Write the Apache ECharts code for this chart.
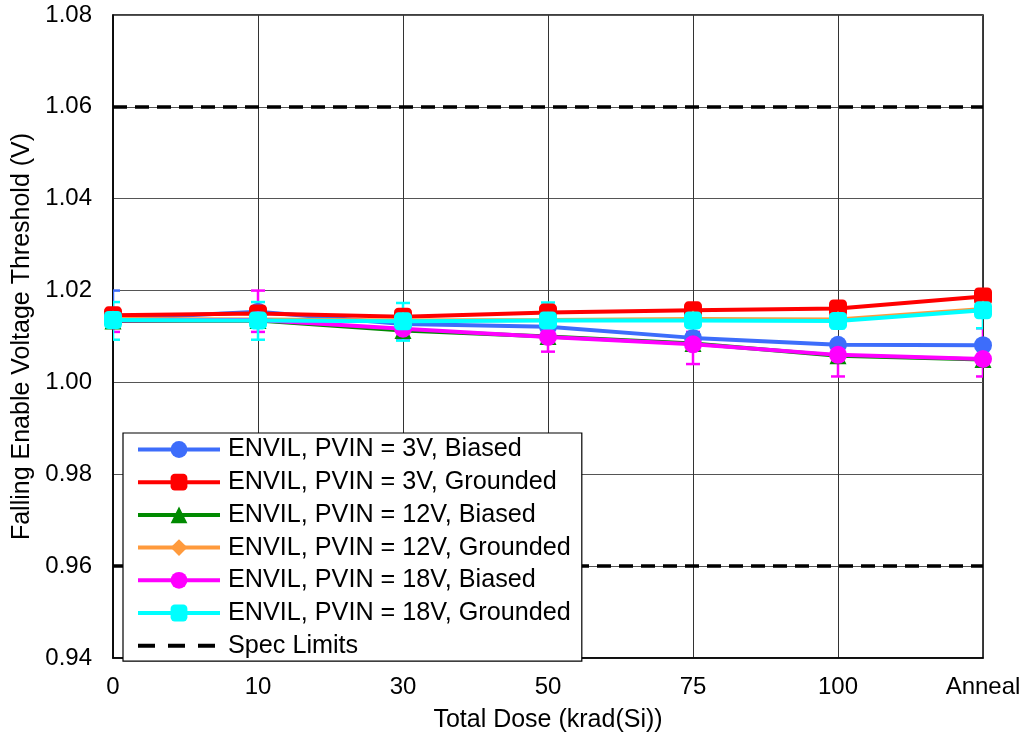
<!DOCTYPE html>
<html>
<head>
<meta charset="utf-8">
<script src="https://cdn.jsdelivr.net/npm/echarts@6/dist/echarts.min.js"></script>
<style>html,body{margin:0;padding:0;background:#fff}#c{width:1026px;height:742px}</style>
</head>
<body>
<div id="c"></div>
<script>
const categories = ['0', '10', '30', '50', '75', '100', 'Anneal'];
const yTicks = [0.94, 0.96, 0.98, 1.00, 1.02, 1.04, 1.06, 1.08];
const specLimits = [1.06, 0.96];

const blue3B    = [1.0138, 1.0154, 1.0127, 1.0121, 1.0097, 1.0082, 1.0081];
const red3G     = [1.0146, 1.0150, 1.0143, 1.0152, 1.0157, 1.0161, 1.0187];
const green12B  = [1.0134, 1.0135, 1.0113, 1.0100, 1.0085, 1.0058, 1.0050];
const orange12G = [1.0138, 1.0137, 1.0135, 1.0136, 1.0138, 1.0137, 1.0160];
const mag18B    = [1.0135, 1.0136, 1.0117, 1.0099, 1.0083, 1.0060, 1.0051];
const cyan18G   = [1.0136, 1.0135, 1.0133, 1.0135, 1.0135, 1.0134, 1.0157];

// error bar low / high limits (null = none drawn)
const blue3BLo  = [1.0125, null, null, null, null, null, null];
const blue3BHi  = [1.0200, null, null, null, null, null, null];
const mag18BLo  = [1.0110, 1.0110, 1.0095, 1.0067, 1.0040, 1.0013, 1.0013];
const mag18BHi  = [1.0160, 1.0200, 1.0135, 1.0120, 1.0110, 1.0085, 1.0118];
const cyan18GLo = [1.0093, 1.0093, 1.0091, 1.0096, 1.0120, 1.0118, 1.0118];
const cyan18GHi = [1.0175, 1.0175, 1.0173, 1.0174, 1.0150, 1.0150, 1.0196];

const FONT = 'Liberation Sans, Arial, sans-serif';
const FS = 24;
const FS_L = 25.2;
const FS_T = 25;

function lineSeries(name, data, color, symbol, size) {
  return {
    name: name, type: 'line', data: data,
    symbol: symbol, symbolSize: size, showSymbol: true,
    lineStyle: { color: color, width: 4 },
    itemStyle: { color: color, borderWidth: 0 },
    emphasis: { disabled: true },
    z: 3
  };
}
function errSeries(name, lo, hi, color) {
  const d = [];
  for (let i = 0; i < lo.length; i++) {
    if (lo[i] != null && hi[i] != null) d.push([i, lo[i], hi[i]]);
  }
  return {
    name: name, type: 'custom', data: d, z: 3, silent: true,
    clip: true,
    renderItem: function (params, api) {
      const x = api.value(0);
      const pLo = api.coord([x, api.value(1)]);
      const pHi = api.coord([x, api.value(2)]);
      const w = 7;
      const st = { stroke: color, lineWidth: 2.5 };
      return {
        type: 'group',
        children: [
          { type: 'line', shape: { x1: pLo[0], y1: pLo[1], x2: pHi[0], y2: pHi[1] }, style: st },
          { type: 'line', shape: { x1: pLo[0] - w, y1: pLo[1], x2: pLo[0] + w, y2: pLo[1] }, style: st },
          { type: 'line', shape: { x1: pHi[0] - w, y1: pHi[1], x2: pHi[0] + w, y2: pHi[1] }, style: st }
        ]
      };
    }
  };
}

const C_BLUE = '#3d6dfb', C_RED = '#ff0000', C_GREEN = '#008a00',
      C_ORANGE = '#ff9a3c', C_MAG = '#ff00ff', C_CYAN = '#00ffff';

const names = [
  'ENVIL, PVIN = 3V, Biased',
  'ENVIL, PVIN = 3V, Grounded',
  'ENVIL, PVIN = 12V, Biased',
  'ENVIL, PVIN = 12V, Grounded',
  'ENVIL, PVIN = 18V, Biased',
  'ENVIL, PVIN = 18V, Grounded',
  'Spec Limits'
];

const legendData = names.map(function (n, i) {
  if (i === names.length - 1) {
    return { name: n, itemStyle: { opacity: 0 }, lineStyle: { width: 4, type: [17, 13] } };
  }
  return { name: n };
});

const chart = echarts.init(document.getElementById('c'), null, { renderer: 'canvas' });
chart.setOption({
  animation: false,
  backgroundColor: '#fff',
  textStyle: { fontFamily: FONT },
  grid: { left: 113, right: 43, top: 15, bottom: 84, show: true, borderColor: '#000', borderWidth: 1.5, backgroundColor: 'transparent' },
  legend: {
    data: legendData,
    orient: 'vertical',
    left: 123, top: 433,
    padding: [4, 11, 3, 13],
    itemGap: 7.7,
    itemWidth: 82, itemHeight: 21,
    lineStyle: { width: 4 },
    backgroundColor: '#fff',
    borderColor: '#000', borderWidth: 1.2, borderRadius: 0,
    textStyle: { fontSize: FS_L, fontFamily: FONT, color: '#000', lineHeight: 24, padding: [0, 0, 0, 3] },
    selectedMode: false,
    z: 10
  },
  xAxis: {
    type: 'category', data: categories, boundaryGap: false,
    name: 'Total Dose (krad(Si))', nameLocation: 'middle', nameGap: 50,
    nameTextStyle: { fontSize: FS_T, fontFamily: FONT, color: '#000' },
    axisLine: { lineStyle: { color: '#000', width: 1.5 } },
    axisTick: { show: false },
    axisLabel: { fontSize: FS, fontFamily: FONT, color: '#000', margin: 17 },
    splitLine: { show: true, lineStyle: { color: '#333', width: 1 } }
  },
  yAxis: {
    type: 'value', min: yTicks[0], max: yTicks[yTicks.length - 1], interval: 0.02,
    name: 'Falling Enable Voltage Threshold (V)', nameLocation: 'middle', nameGap: 78,
    nameTextStyle: { fontSize: FS_T, fontFamily: FONT, color: '#000' },
    axisLine: { show: true, lineStyle: { color: '#000', width: 1.5 } },
    axisTick: { show: false },
    axisLabel: { fontSize: FS, fontFamily: FONT, color: '#000', margin: 21,
      formatter: function (v) { return v.toFixed(2); } },
    splitLine: { show: true, lineStyle: { color: '#555', width: 1 } }
  },
  series: [
    {
      name: 'Spec Limits', type: 'line', data: [], symbol: 'none',
      lineStyle: { color: '#000', width: 3.5, type: [14, 8] },
      itemStyle: { color: '#000' },
      z: 2,
      markLine: {
        silent: true, symbol: 'none', label: { show: false },
        lineStyle: { color: '#000', width: 3.5, type: [14, 8] },
        data: specLimits.map(v => ({ yAxis: v }))
      }
    },
    lineSeries(names[0], blue3B, C_BLUE, 'circle', 18),
    errSeries('errBlue', blue3BLo, blue3BHi, C_BLUE),
    lineSeries(names[1], red3G, C_RED, 'roundRect', 18),
    lineSeries(names[2], green12B, C_GREEN, 'triangle', 17),
    lineSeries(names[3], orange12G, C_ORANGE, 'diamond', 17),
    lineSeries(names[4], mag18B, C_MAG, 'circle', 18),
    errSeries('errMag', mag18BLo, mag18BHi, C_MAG),
    lineSeries(names[5], cyan18G, C_CYAN, 'roundRect', 18),
    errSeries('errCyan', cyan18GLo, cyan18GHi, C_CYAN)
  ]
});
</script>
</body>
</html>
